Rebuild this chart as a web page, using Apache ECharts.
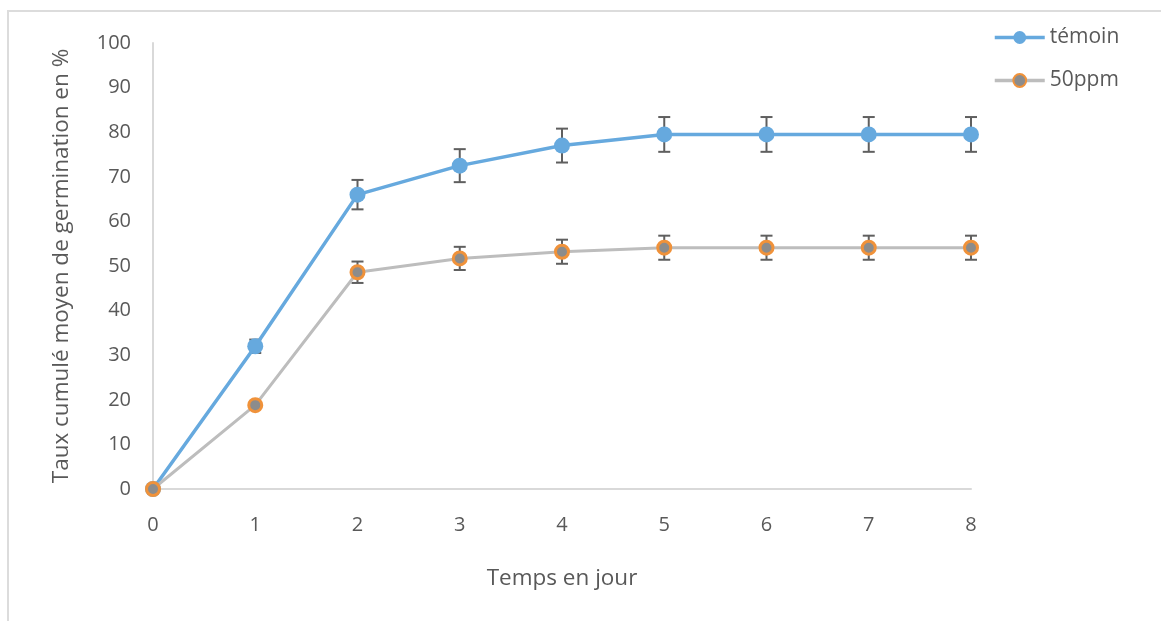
<!DOCTYPE html>
<html>
<head>
<meta charset="utf-8">
<script src="https://cdn.jsdelivr.net/npm/echarts@6/dist/echarts.min.js"></script>
<style>html,body{margin:0;padding:0;background:#fff}#c{width:1161px;height:621px}</style>
</head>
<body>
<div id="c"></div>
<script>
const days = ['0','1','2','3','4','5','6','7','8'];
const temoin = [0, 32, 66, 72.5, 77, 79.5, 79.5, 79.5, 79.5];
const temoinErr = [0, 1.5, 3.3, 3.7, 3.8, 3.9, 3.9, 3.9, 3.9];
const ppm50 = [0, 18.8, 48.6, 51.7, 53.2, 54.1, 54.1, 54.1, 54.1];
const ppm50Err = [0, 0, 2.4, 2.6, 2.7, 2.7, 2.7, 2.7, 2.7];
const yTicks = [0, 10, 20, 30, 40, 50, 60, 70, 80, 90, 100];

const font = '"Open Sans", sans-serif';
const txt = '#595959';

function errData(vals, errs) {
  return vals.map((v, i) => [i, v - errs[i], v + errs[i]]).filter((d, i) => errs[i] > 0);
}
function errRender(params, api) {
  const x = api.value(0);
  const lo = api.coord([x, api.value(1)]);
  const hi = api.coord([x, api.value(2)]);
  const w = 6;
  const st = { stroke: '#5f5f5f', lineWidth: 2 };
  return {
    type: 'group',
    children: [
      { type: 'line', shape: { x1: lo[0], y1: lo[1], x2: hi[0], y2: hi[1] }, style: st },
      { type: 'line', shape: { x1: lo[0] - w, y1: lo[1], x2: lo[0] + w, y2: lo[1] }, style: st },
      { type: 'line', shape: { x1: hi[0] - w, y1: hi[1], x2: hi[0] + w, y2: hi[1] }, style: st }
    ]
  };
}

const chart = echarts.init(document.getElementById('c'));
chart.setOption({
  animation: false,
  backgroundColor: '#fff',
  textStyle: { fontFamily: font },
  graphic: [
    { type: 'line', shape: { x1: 7, y1: 11, x2: 1161, y2: 11 }, style: { stroke: '#dcdcdc', lineWidth: 2 }, silent: true },
    { type: 'line', shape: { x1: 8, y1: 10, x2: 8, y2: 621 }, style: { stroke: '#dcdcdc', lineWidth: 2 }, silent: true }
  ],
  legend: {
    orient: 'vertical',
    left: 988,
    top: 22,
    itemWidth: 50,
    itemHeight: 16,
    itemGap: 22,
    textStyle: { fontFamily: font, fontSize: 21, color: txt },
    data: [
      { name: 'témoin', lineStyle: { width: 3.5 } },
      { name: '50ppm', lineStyle: { width: 3.5 } }
    ]
  },
  grid: { left: 153, right: 190, top: 43, bottom: 132 },
  xAxis: {
    type: 'category',
    data: days,
    boundaryGap: false,
    name: 'Temps en jour',
    nameLocation: 'middle',
    nameGap: 78,
    nameTextStyle: { fontFamily: font, fontSize: 22.5, color: txt },
    axisLine: { lineStyle: { color: '#d9d9d9', width: 2 } },
    axisTick: { show: false },
    axisLabel: { fontFamily: font, fontSize: 20, color: txt, margin: 26 },
    splitLine: { show: false }
  },
  yAxis: {
    type: 'value',
    min: 0, max: 100, interval: 10,
    name: 'Taux cumulé moyen de germination en %',
    nameLocation: 'middle',
    nameGap: 80,
    nameTextStyle: { fontFamily: font, fontSize: 22.5, color: txt },
    axisLine: { show: true, lineStyle: { color: '#d9d9d9', width: 2 } },
    axisTick: { show: false },
    axisLabel: { fontFamily: font, fontSize: 20, color: txt, margin: 22,
      formatter: v => yTicks.includes(v) ? String(v) : '' },
    splitLine: { show: false }
  },
  series: [
    { type: 'custom', name: 'errT', renderItem: errRender, data: errData(temoin, temoinErr), z: 1, silent: true, encode: { x: 0, y: [1, 2] } },
    { type: 'custom', name: 'errP', renderItem: errRender, data: errData(ppm50, ppm50Err), z: 1, silent: true, encode: { x: 0, y: [1, 2] } },
    {
      name: 'témoin', type: 'line', data: temoin, smooth: false, z: 3,
      symbol: 'circle', symbolSize: 16,
      lineStyle: { color: '#66a9de', width: 3.5 },
      itemStyle: { color: '#66a9de', borderColor: '#66a9de', borderWidth: 0 }
    },
    {
      name: '50ppm', type: 'line', data: ppm50, smooth: false, z: 3,
      symbol: 'circle', symbolSize: 13,
      lineStyle: { color: '#bdbdbd', width: 3 },
      itemStyle: { color: '#8c8c8c', borderColor: '#f0923a', borderWidth: 3 }
    }
  ]
});
</script>
</body>
</html>
